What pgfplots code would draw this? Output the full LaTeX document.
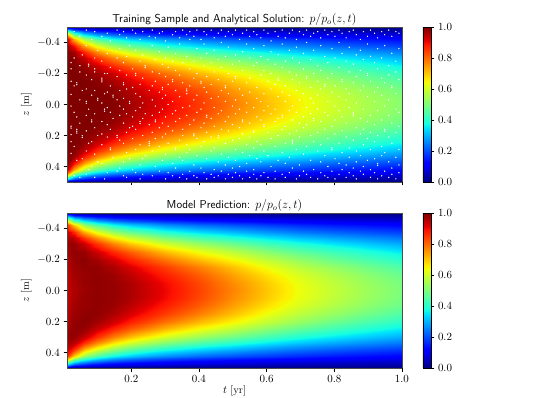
\documentclass[border=0pt]{standalone}
\usepackage{pgfplots}
\usepackage{pgfplotstable}
\pgfplotsset{compat=1.18}

% analytical solution, upper half (z<=0), mirrored for z>0
\pgfplotstableread[row sep=\\]{
t z v\\
.01 -.5 0\\ .01 -.48 .36\\ .01 -.45 .757\\ .01 -.42 .939\\ .01 -.38 .995\\ .01 -.34 1\\ .01 -.3 1\\ .01 -.25 1\\ .01 -.2 1\\ .01 -.15 1\\ .01 -.1 1\\ .01 -.05 1\\ .01 0 1\\
.03 -.5 0\\ .03 -.48 .213\\ .03 -.45 .501\\ .03 -.42 .72\\ .03 -.38 .895\\ .03 -.34 .97\\ .03 -.3 .993\\ .03 -.25 1\\ .03 -.2 1\\ .03 -.15 1\\ .03 -.1 1\\ .03 -.05 1\\ .03 0 1\\
.06 -.5 0\\ .06 -.48 .151\\ .06 -.45 .367\\ .06 -.42 .556\\ .06 -.38 .749\\ .06 -.34 .877\\ .06 -.3 .944\\ .06 -.25 .983\\ .06 -.2 .996\\ .06 -.15 1\\ .06 -.1 1\\ .06 -.05 1\\ .06 0 1\\
.1 -.5 0\\ .1 -.48 .118\\ .1 -.45 .289\\ .1 -.42 .446\\ .1 -.38 .626\\ .1 -.34 .763\\ .1 -.3 .861\\ .1 -.25 .936\\ .1 -.2 .974\\ .1 -.15 .99\\ .1 -.1 .997\\ .1 -.05 .999\\ .1 0 .999\\
.15 -.5 0\\ .15 -.48 .096\\ .15 -.45 .238\\ .15 -.42 .371\\ .15 -.38 .532\\ .15 -.34 .666\\ .15 -.3 .773\\ .15 -.25 .868\\ .15 -.2 .93\\ .15 -.15 .965\\ .15 -.1 .984\\ .15 -.05 .992\\ .15 0 .995\\
.2 -.5 0\\ .2 -.48 .083\\ .2 -.45 .207\\ .2 -.42 .324\\ .2 -.38 .47\\ .2 -.34 .598\\ .2 -.3 .705\\ .2 -.25 .81\\ .2 -.2 .875\\ .2 -.15 .92\\ .2 -.1 .95\\ .2 -.05 .965\\ .2 0 .97\\
.3 -.5 0\\ .3 -.48 .068\\ .3 -.45 .169\\ .3 -.42 .267\\ .3 -.38 .392\\ .3 -.34 .506\\ .3 -.3 .607\\ .3 -.25 .714\\ .3 -.2 .79\\ .3 -.15 .845\\ .3 -.1 .88\\ .3 -.05 .905\\ .3 0 .91\\
.4 -.5 0\\ .4 -.48 .059\\ .4 -.45 .146\\ .4 -.42 .232\\ .4 -.38 .342\\ .4 -.34 .445\\ .4 -.3 .538\\ .4 -.25 .64\\ .4 -.2 .715\\ .4 -.15 .775\\ .4 -.1 .82\\ .4 -.05 .845\\ .4 0 .85\\
.5 -.5 0\\ .5 -.48 .052\\ .5 -.45 .13\\ .5 -.42 .207\\ .5 -.38 .306\\ .5 -.34 .398\\ .5 -.3 .484\\ .5 -.25 .579\\ .5 -.2 .65\\ .5 -.15 .705\\ .5 -.1 .745\\ .5 -.05 .77\\ .5 0 .78\\
.6 -.5 0\\ .6 -.48 .047\\ .6 -.45 .118\\ .6 -.42 .187\\ .6 -.38 .276\\ .6 -.34 .361\\ .6 -.3 .439\\ .6 -.25 .527\\ .6 -.2 .59\\ .6 -.15 .64\\ .6 -.1 .68\\ .6 -.05 .705\\ .6 0 .71\\
.7 -.5 0\\ .7 -.48 .043\\ .7 -.45 .107\\ .7 -.42 .17\\ .7 -.38 .251\\ .7 -.34 .328\\ .7 -.3 .4\\ .7 -.25 .48\\ .7 -.2 .54\\ .7 -.15 .585\\ .7 -.1 .62\\ .7 -.05 .645\\ .7 0 .65\\
.8 -.5 0\\ .8 -.48 .039\\ .8 -.45 .097\\ .8 -.42 .154\\ .8 -.38 .228\\ .8 -.34 .299\\ .8 -.3 .364\\ .8 -.25 .438\\ .8 -.2 .49\\ .8 -.15 .54\\ .8 -.1 .575\\ .8 -.05 .595\\ .8 0 .6\\
.9 -.5 0\\ .9 -.48 .036\\ .9 -.45 .089\\ .9 -.42 .141\\ .9 -.38 .208\\ .9 -.34 .273\\ .9 -.3 .333\\ .9 -.25 .401\\ .9 -.2 .45\\ .9 -.15 .495\\ .9 -.1 .53\\ .9 -.05 .55\\ .9 0 .555\\
1 -.5 0\\ 1 -.48 .033\\ 1 -.45 .081\\ 1 -.42 .129\\ 1 -.38 .191\\ 1 -.34 .249\\ 1 -.3 .304\\ 1 -.25 .366\\ 1 -.2 .415\\ 1 -.15 .455\\ 1 -.1 .49\\ 1 -.05 .51\\ 1 0 .515\\
}\analytic

% model prediction, upper half
\pgfplotstableread[row sep=\\]{
t z v\\
.01 -.5 .02\\ .01 -.48 .3\\ .01 -.45 .65\\ .01 -.42 .86\\ .01 -.38 .94\\ .01 -.34 .97\\ .01 -.3 .98\\ .01 -.25 .97\\ .01 -.2 .96\\ .01 -.15 .95\\ .01 -.1 .945\\ .01 -.05 .94\\ .01 0 .94\\
.03 -.5 .01\\ .03 -.48 .19\\ .03 -.45 .46\\ .03 -.42 .7\\ .03 -.38 .87\\ .03 -.34 .95\\ .03 -.3 .98\\ .03 -.25 .985\\ .03 -.2 .98\\ .03 -.15 .975\\ .03 -.1 .97\\ .03 -.05 .965\\ .03 0 .96\\
.06 -.5 0\\ .06 -.48 .15\\ .06 -.45 .36\\ .06 -.42 .54\\ .06 -.38 .73\\ .06 -.34 .86\\ .06 -.3 .94\\ .06 -.25 .98\\ .06 -.2 .99\\ .06 -.15 .985\\ .06 -.1 .98\\ .06 -.05 .98\\ .06 0 .975\\
.1 -.5 0\\ .1 -.48 .118\\ .1 -.45 .289\\ .1 -.42 .446\\ .1 -.38 .626\\ .1 -.34 .763\\ .1 -.3 .86\\ .1 -.25 .935\\ .1 -.2 .97\\ .1 -.15 .985\\ .1 -.1 .985\\ .1 -.05 .985\\ .1 0 .985\\
.15 -.5 0\\ .15 -.48 .096\\ .15 -.45 .238\\ .15 -.42 .371\\ .15 -.38 .532\\ .15 -.34 .666\\ .15 -.3 .773\\ .15 -.25 .868\\ .15 -.2 .928\\ .15 -.15 .96\\ .15 -.1 .975\\ .15 -.05 .98\\ .15 0 .98\\
.2 -.5 0\\ .2 -.48 .083\\ .2 -.45 .207\\ .2 -.42 .324\\ .2 -.38 .47\\ .2 -.34 .598\\ .2 -.3 .705\\ .2 -.25 .81\\ .2 -.2 .875\\ .2 -.15 .92\\ .2 -.1 .945\\ .2 -.05 .96\\ .2 0 .962\\
.3 -.5 0\\ .3 -.48 .068\\ .3 -.45 .169\\ .3 -.42 .267\\ .3 -.38 .392\\ .3 -.34 .506\\ .3 -.3 .607\\ .3 -.25 .714\\ .3 -.2 .79\\ .3 -.15 .845\\ .3 -.1 .878\\ .3 -.05 .9\\ .3 0 .905\\
.4 -.5 0\\ .4 -.48 .059\\ .4 -.45 .146\\ .4 -.42 .232\\ .4 -.38 .342\\ .4 -.34 .445\\ .4 -.3 .538\\ .4 -.25 .64\\ .4 -.2 .715\\ .4 -.15 .775\\ .4 -.1 .812\\ .4 -.05 .835\\ .4 0 .84\\
.5 -.5 0\\ .5 -.48 .052\\ .5 -.45 .13\\ .5 -.42 .207\\ .5 -.38 .306\\ .5 -.34 .398\\ .5 -.3 .484\\ .5 -.25 .579\\ .5 -.2 .65\\ .5 -.15 .705\\ .5 -.1 .74\\ .5 -.05 .762\\ .5 0 .77\\
.6 -.5 0\\ .6 -.48 .046\\ .6 -.45 .116\\ .6 -.42 .184\\ .6 -.38 .271\\ .6 -.34 .354\\ .6 -.3 .431\\ .6 -.25 .517\\ .6 -.2 .585\\ .6 -.15 .635\\ .6 -.1 .672\\ .6 -.05 .695\\ .6 0 .7\\
.7 -.5 0\\ .7 -.48 .042\\ .7 -.45 .104\\ .7 -.42 .165\\ .7 -.38 .243\\ .7 -.34 .318\\ .7 -.3 .388\\ .7 -.25 .466\\ .7 -.2 .53\\ .7 -.15 .575\\ .7 -.1 .61\\ .7 -.05 .63\\ .7 0 .635\\
.8 -.5 0\\ .8 -.48 .038\\ .8 -.45 .094\\ .8 -.42 .149\\ .8 -.38 .221\\ .8 -.34 .29\\ .8 -.3 .353\\ .8 -.25 .425\\ .8 -.2 .48\\ .8 -.15 .53\\ .8 -.1 .562\\ .8 -.05 .58\\ .8 0 .585\\
.9 -.5 0\\ .9 -.48 .035\\ .9 -.45 .086\\ .9 -.42 .137\\ .9 -.38 .202\\ .9 -.34 .265\\ .9 -.3 .323\\ .9 -.25 .389\\ .9 -.2 .44\\ .9 -.15 .485\\ .9 -.1 .518\\ .9 -.05 .535\\ .9 0 .54\\
1 -.5 0\\ 1 -.48 .032\\ 1 -.45 .079\\ 1 -.42 .125\\ 1 -.38 .185\\ 1 -.34 .242\\ 1 -.3 .295\\ 1 -.25 .355\\ 1 -.2 .404\\ 1 -.15 .445\\ 1 -.1 .477\\ 1 -.05 .495\\ 1 0 .5\\
}\model

% training sample locations
\pgfplotstableread[row sep=\\]{
t z h\\
.022 -.27 1\\ .022 -.23 1\\ .022 -.15 1\\ .022 -.065 1\\ .022 .01 1\\ .022 .14 1\\ .022 .152 1\\ .022 .195 1\\ .022 .24 1\\ .022 .315 1\\
.031 -.47 1\\ .031 -.3 1\\ .031 -.12 1\\ .031 .05 1\\ .031 .27 1\\ .031 .46 1\\
.039 -.14 1\\ .039 -.128 1\\ .039 .08 1\\ .039 .16 1\\ .039 .172 1\\ .039 .184 1\\ .039 .36 1\\
.048 -.44 1\\ .048 -.25 1\\ .048 -.21 1\\ .048 -.03 1\\ .048 .12 1\\ .048 .47 1\\
.055 -.32 1\\ .055 -.09 1\\ .055 .2 1\\ .055 .212 1\\ .055 .35 1\\
.067 -.48 1\\ .067 -.38 1\\ .067 -.19 1\\ .067 -.1 1\\ .067 -.02 1\\ .067 -.008 1\\ .067 .07 1\\ .067 .17 1\\ .067 .3 1\\ .067 .45 1\\
.074 -.26 1\\ .074 -.248 1\\ .074 .03 1\\ .074 .25 1\\ .074 .42 1\\
.083 -.42 1\\ .083 -.16 1\\ .083 -.06 1\\ .083 .1 1\\ .083 .112 1\\ .083 .24 1\\ .083 .4 1\\
.092 -.47 1\\ .092 -.3 1\\ .092 -.23 1\\ .092 -.21 1\\ .092 -.09 1\\ .092 .06 1\\ .092 .15 1\\ .092 .32 1\\ .092 .47 1\\
.101 -.35 1\\ .101 -.04 1\\ .101 -.028 1\\ .101 .2 1\\ .101 .37 1\\
.113 -.44 1\\ .113 -.28 1\\ .113 -.17 1\\ .113 -.158 1\\ .113 -.146 1\\ .113 -.01 1\\ .113 .11 1\\ .113 .19 1\\ .113 .26 1\\ .113 .38 1\\
.121 -.2 1\\ .121 -.07 1\\ .121 .03 1\\ .121 .043 1\\ .121 .48 1\\
.129 -.46 1\\ .129 -.33 1\\ .129 -.2 1\\ .129 -.08 1\\ .129 .02 1\\ .129 .13 1\\ .129 .21 1\\ .129 .44 1\\
.138 -.41 1\\ .138 -.24 1\\ .138 -.12 1\\ .138 .05 1\\ .138 .16 1\\ .138 .28 1\\ .138 .292 1\\
.146 -.06 1\\ .146 -.048 1\\ .146 .09 1\\ .146 .34 1\\
.158 -.48 1\\ .158 -.3 1\\ .158 -.18 1\\ .158 -.03 1\\ .158 .2 1\\ .158 .212 1\\ .158 .43 1\\
.166 -.45 1\\ .166 -.36 1\\ .166 -.22 1\\ .166 -.09 1\\ .166 .01 1\\ .166 .07 1\\ .166 .23 1\\ .166 .41 1\\
.177 -.47 1\\ .177 -.27 1\\ .177 -.14 1\\ .177 -.128 1\\ .177 -.04 1\\ .177 .03 1\\ .177 .12 1\\ .177 .25 1\\ .177 .37 1\\ .177 .46 1\\
.186 -.43 1\\ .186 -.31 1\\ .186 -.19 1\\ .186 -.1 1\\ .186 .06 1\\ .186 .18 1\\ .186 .31 1\\ .186 .47 1\\
.195 -.38 1\\ .195 -.02 1\\ .195 -.008 1\\ .195 .15 1\\ .195 .35 1\\
.204 -.48 1\\ .204 -.23 1\\ .204 -.11 1\\ .204 .08 1\\ .204 .14 1\\ .204 .22 1\\ .204 .42 1\\
.213 -.46 1\\ .213 -.35 1\\ .213 -.2 1\\ .213 -.188 1\\ .213 -.07 1\\ .213 .04 1\\ .213 .16 1\\ .213 .29 1\\ .213 .44 1\\
.226 -.42 1\\ .226 -.28 1\\ .226 -.13 1\\ .226 -.05 1\\ .226 .02 1\\ .226 .11 1\\ .226 .123 1\\ .226 .26 1\\ .226 .39 1\\ .226 .48 1\\
.234 -.47 1\\ .234 -.32 1\\ .234 -.17 1\\ .234 -.01 1\\ .234 .09 1\\ .234 .2 1\\ .234 .35 1\\ .234 .45 1\\
.241 -.25 1\\ .241 -.238 1\\ .241 .06 1\\ .241 .33 1\\
.253 -.44 1\\ .253 -.09 1\\ .253 .13 1\\ .253 .24 1\\ .253 .252 1\\ .253 .264 1\\
.262 -.48 1\\ .262 -.38 1\\ .262 -.21 1\\ .262 -.12 1\\ .262 -.03 1\\ .262 .07 1\\ .262 .18 1\\ .262 .3 1\\ .262 .46 1\\
.271 -.43 1\\ .271 -.29 1\\ .271 -.15 1\\ .271 .01 1\\ .271 .1 1\\ .271 .112 1\\ .271 .22 1\\ .271 .4 1\\
.283 -.46 1\\ .283 -.34 1\\ .283 -.2 1\\ .283 -.08 1\\ .283 .05 1\\ .283 .15 1\\ .283 .27 1\\ .283 .43 1\\
.292 -.47 1\\ .292 -.26 1\\ .292 -.11 1\\ .292 -.098 1\\ .292 -.04 1\\ .292 .03 1\\ .292 .12 1\\ .292 .21 1\\ .292 .36 1\\
.301 -.41 1\\ .301 -.3 1\\ .301 -.18 1\\ .301 -.06 1\\ .301 .08 1\\ .301 .19 1\\ .301 .32 1\\ .301 .48 1\\
.309 -.37 1\\ .309 -.24 1\\ .309 -.13 1\\ .309 0 1\\ .309 .14 1\\ .309 .25 1\\ .309 .44 1\\
.322 -.45 1\\ .322 -.28 1\\ .322 -.16 1\\ .322 -.148 1\\ .322 -.02 1\\ .322 .06 1\\ .322 .17 1\\ .322 .38 1\\ .322 .46 1\\
.331 -.47 1\\ .331 -.33 1\\ .331 -.22 1\\ .331 -.09 1\\ .331 .04 1\\ .331 .11 1\\ .331 .28 1\\ .331 .292 1\\ .331 .41 1\\
.343 -.43 1\\ .343 -.39 1\\ .343 -.19 1\\ .343 -.05 1\\ .343 .09 1\\ .343 .23 1\\ .343 .34 1\\ .343 .47 1\\
.352 -.48 1\\ .352 -.27 1\\ .352 -.14 1\\ .352 .02 1\\ .352 .16 1\\ .352 .2 1\\ .352 .36 1\\ .352 .45 1\\
.364 -.45 1\\ .364 -.31 1\\ .364 -.1 1\\ .364 -.088 1\\ .364 -.07 1\\ .364 .07 1\\ .364 .26 1\\ .364 .31 1\\ .364 .48 1\\
.373 -.47 1\\ .373 -.42 1\\ .373 -.23 1\\ .373 -.12 1\\ .373 .01 1\\ .373 .13 1\\ .373 .29 1\\ .373 .43 1\\
.385 -.44 1\\ .385 -.28 1\\ .385 -.17 1\\ .385 -.03 1\\ .385 .1 1\\ .385 .19 1\\ .385 .202 1\\ .385 .39 1\\ .385 .46 1\\
.394 -.48 1\\ .394 -.36 1\\ .394 -.2 1\\ .394 -.06 1\\ .394 .05 1\\ .394 .22 1\\ .394 .33 1\\ .394 .47 1\\
.406 -.42 1\\ .406 -.3 1\\ .406 -.15 1\\ .406 -.138 1\\ .406 .03 1\\ .406 .15 1\\ .406 .27 1\\ .406 .41 1\\
.415 -.47 1\\ .415 -.39 1\\ .415 -.25 1\\ .415 -.11 1\\ .415 -.01 1\\ .415 .12 1\\ .415 .24 1\\ .415 .44 1\\
.423 -.45 1\\ .423 -.33 1\\ .423 -.18 1\\ .423 -.08 1\\ .423 .07 1\\ .423 .082 1\\ .423 .18 1\\ .423 .35 1\\ .423 .48 1\\
.436 -.48 1\\ .436 -.27 1\\ .436 -.13 1\\ .436 -.04 1\\ .436 .09 1\\ .436 .21 1\\ .436 .3 1\\ .436 .45 1\\
.445 -.43 1\\ .445 -.35 1\\ .445 -.21 1\\ .445 .02 1\\ .445 .14 1\\ .445 .28 1\\ .445 .42 1\\ .445 .47 1\\
.457 -.46 1\\ .457 -.29 1\\ .457 -.16 1\\ .457 -.05 1\\ .457 .06 1\\ .457 .2 1\\ .457 .212 1\\ .457 .37 1\\ .457 .46 1\\
.466 -.48 1\\ .466 -.4 1\\ .466 -.24 1\\ .466 -.09 1\\ .466 .04 1\\ .466 .16 1\\ .466 .32 1\\ .466 .43 1\\
.478 -.44 1\\ .478 -.31 1\\ .478 -.12 1\\ .478 -.108 1\\ .478 -.02 1\\ .478 .11 1\\ .478 .25 1\\ .478 .39 1\\ .478 .48 1\\
.487 -.47 1\\ .487 -.37 1\\ .487 -.2 1\\ .487 -.07 1\\ .487 .08 1\\ .487 .17 1\\ .487 .34 1\\ .487 .45 1\\
.499 -.45 1\\ .499 -.26 1\\ .499 -.15 1\\ .499 .01 1\\ .499 .13 1\\ .499 .23 1\\ .499 .41 1\\ .499 .47 1\\
.508 -.48 1\\ .508 -.32 1\\ .508 -.18 1\\ .508 -.168 1\\ .508 -.03 1\\ .508 .06 1\\ .508 .29 1\\ .508 .36 1\\ .508 .44 1\\
.52 -.42 1\\ .52 -.28 1\\ .52 -.1 1\\ .52 .03 1\\ .52 .15 1\\ .52 .22 1\\ .52 .4 1\\ .52 .46 1\\
.529 -.46 1\\ .529 -.34 1\\ .529 -.22 1\\ .529 -.06 1\\ .529 .1 1\\ .529 .112 1\\ .529 .19 1\\ .529 .31 1\\ .529 .48 1\\
.541 -.48 1\\ .541 -.39 1\\ .541 -.14 1\\ .541 -.01 1\\ .541 .05 1\\ .541 .26 1\\ .541 .38 1\\ .541 .43 1\\
.55 -.44 1\\ .55 -.3 1\\ .55 -.17 1\\ .55 -.08 1\\ .55 .12 1\\ .55 .21 1\\ .55 .33 1\\ .55 .47 1\\
.562 -.47 1\\ .562 -.36 1\\ .562 -.25 1\\ .562 .02 1\\ .562 .17 1\\ .562 .182 1\\ .562 .28 1\\ .562 .42 1\\ .562 .45 1\\
.571 -.45 1\\ .571 -.27 1\\ .571 -.11 1\\ .571 -.04 1\\ .571 .08 1\\ .571 .24 1\\ .571 .35 1\\ .571 .48 1\\
.583 -.43 1\\ .583 -.31 1\\ .583 -.19 1\\ .583 -.02 1\\ .583 .1 1\\ .583 .26 1\\ .583 .37 1\\ .583 .46 1\\
.592 -.48 1\\ .592 -.38 1\\ .592 -.22 1\\ .592 -.07 1\\ .592 .04 1\\ .592 .13 1\\ .592 .142 1\\ .592 .3 1\\ .592 .44 1\\
.604 -.46 1\\ .604 -.29 1\\ .604 -.15 1\\ .604 .01 1\\ .604 .18 1\\ .604 .33 1\\ .604 .47 1\\
.613 -.41 1\\ .613 -.34 1\\ .613 -.2 1\\ .613 -.1 1\\ .613 .06 1\\ .613 .22 1\\ .613 .4 1\\
.625 -.47 1\\ .625 -.26 1\\ .625 -.13 1\\ .625 .03 1\\ .625 .11 1\\ .625 .27 1\\ .625 .43 1\\ .625 .48 1\\
.634 -.44 1\\ .634 -.32 1\\ .634 -.17 1\\ .634 -.158 1\\ .634 -.05 1\\ .634 .09 1\\ .634 .2 1\\ .634 .36 1\\
.646 -.48 1\\ .646 -.39 1\\ .646 -.24 1\\ .646 -.08 1\\ .646 .07 1\\ .646 .082 1\\ .646 .16 1\\ .646 .31 1\\ .646 .45 1\\
.655 -.43 1\\ .655 -.28 1\\ .655 -.12 1\\ .655 -.02 1\\ .655 .14 1\\ .655 .25 1\\ .655 .38 1\\ .655 .47 1\\
.667 -.46 1\\ .667 -.35 1\\ .667 -.21 1\\ .667 -.06 1\\ .667 .04 1\\ .667 .19 1\\ .667 .34 1\\ .667 .44 1\\
.676 -.48 1\\ .676 -.3 1\\ .676 -.16 1\\ .676 .01 1\\ .676 .1 1\\ .676 .23 1\\ .676 .242 1\\ .676 .254 1\\ .676 .41 1\\
.688 -.42 1\\ .688 -.37 1\\ .688 -.19 1\\ .688 -.09 1\\ .688 .05 1\\ .688 .17 1\\ .688 .29 1\\ .688 .48 1\\
.697 -.47 1\\ .697 -.27 1\\ .697 -.14 1\\ .697 -.03 1\\ .697 .12 1\\ .697 .21 1\\ .697 .39 1\\ .697 .46 1\\
.709 -.45 1\\ .709 -.33 1\\ .709 -.23 1\\ .709 -.07 1\\ .709 .08 1\\ .709 .15 1\\ .709 .32 1\\ .709 .43 1\\
.718 -.48 1\\ .718 -.4 1\\ .718 -.18 1\\ .718 -.168 1\\ .718 .02 1\\ .718 .13 1\\ .718 .27 1\\ .718 .45 1\\
.73 -.44 1\\ .73 -.29 1\\ .73 -.11 1\\ .73 -.04 1\\ .73 .06 1\\ .73 .2 1\\ .73 .36 1\\ .73 .47 1\\
.739 -.46 1\\ .739 -.35 1\\ .739 -.2 1\\ .739 -.01 1\\ .739 .09 1\\ .739 .102 1\\ .739 .24 1\\ .739 .42 1\\
.751 -.47 1\\ .751 -.25 1\\ .751 -.15 1\\ .751 -.06 1\\ .751 .03 1\\ .751 .18 1\\ .751 .3 1\\ .751 .48 1\\
.76 -.43 1\\ .76 -.38 1\\ .76 -.22 1\\ .76 -.1 1\\ .76 .11 1\\ .76 .26 1\\ .76 .37 1\\ .76 .44 1\\
.772 -.48 1\\ .772 -.31 1\\ .772 -.13 1\\ .772 -.118 1\\ .772 .05 1\\ .772 .16 1\\ .772 .33 1\\ .772 .46 1\\
.781 -.45 1\\ .781 -.27 1\\ .781 -.17 1\\ .781 -.02 1\\ .781 .07 1\\ .781 .22 1\\ .781 .4 1\\ .781 .47 1\\
.793 -.47 1\\ .793 -.36 1\\ .793 -.2 1\\ .793 -.08 1\\ .793 .14 1\\ .793 .28 1\\ .793 .292 1\\ .793 .43 1\\
.802 -.44 1\\ .802 -.3 1\\ .802 -.12 1\\ .802 .01 1\\ .802 .1 1\\ .802 .19 1\\ .802 .35 1\\ .802 .48 1\\
.814 -.48 1\\ .814 -.4 1\\ .814 -.24 1\\ .814 -.05 1\\ .814 .04 1\\ .814 .25 1\\ .814 .38 1\\ .814 .45 1\\
.823 -.46 1\\ .823 -.33 1\\ .823 -.16 1\\ .823 -.148 1\\ .823 .08 1\\ .823 .17 1\\ .823 .31 1\\ .823 .42 1\\
.835 -.43 1\\ .835 -.28 1\\ .835 -.1 1\\ .835 -.03 1\\ .835 .12 1\\ .835 .21 1\\ .835 .39 1\\ .835 .47 1\\
.844 -.47 1\\ .844 -.37 1\\ .844 -.21 1\\ .844 -.07 1\\ .844 .02 1\\ .844 .28 1\\ .844 .34 1\\ .844 .44 1\\
.856 -.48 1\\ .856 -.26 1\\ .856 -.14 1\\ .856 .05 1\\ .856 .062 1\\ .856 .074 1\\ .856 .23 1\\ .856 .41 1\\ .856 .46 1\\
.865 -.45 1\\ .865 -.32 1\\ .865 -.18 1\\ .865 -.01 1\\ .865 .15 1\\ .865 .3 1\\ .865 .37 1\\ .865 .48 1\\
.877 -.42 1\\ .877 -.35 1\\ .877 -.22 1\\ .877 -.09 1\\ .877 .09 1\\ .877 .19 1\\ .877 .33 1\\ .877 .43 1\\
.886 -.47 1\\ .886 -.29 1\\ .886 -.12 1\\ .886 .03 1\\ .886 .16 1\\ .886 .26 1\\ .886 .4 1\\ .886 .45 1\\
.898 -.44 1\\ .898 -.39 1\\ .898 -.2 1\\ .898 -.188 1\\ .898 -.05 1\\ .898 .11 1\\ .898 .22 1\\ .898 .36 1\\
.907 -.48 1\\ .907 -.31 1\\ .907 -.15 1\\ .907 .07 1\\ .907 .18 1\\ .907 .29 1\\ .907 .42 1\\ .907 .47 1\\
.919 -.46 1\\ .919 -.27 1\\ .919 -.08 1\\ .919 -.02 1\\ .919 .13 1\\ .919 .24 1\\ .919 .35 1\\ .919 .44 1\\
.928 -.43 1\\ .928 -.36 1\\ .928 -.23 1\\ .928 -.11 1\\ .928 .04 1\\ .928 .2 1\\ .928 .38 1\\ .928 .392 1\\ .928 .48 1\\
.94 -.47 1\\ .94 -.3 1\\ .94 -.17 1\\ .94 -.06 1\\ .94 .1 1\\ .94 .27 1\\ .94 .33 1\\ .94 .46 1\\
.949 -.45 1\\ .949 -.38 1\\ .949 -.14 1\\ .949 .01 1\\ .949 .16 1\\ .949 .172 1\\ .949 .31 1\\ .949 .43 1\\
.961 -.48 1\\ .961 -.25 1\\ .961 -.19 1\\ .961 -.03 1\\ .961 .07 1\\ .961 .21 1\\ .961 .37 1\\ .961 .47 1\\
.97 -.44 1\\ .97 -.33 1\\ .97 -.12 1\\ .97 -.108 1\\ .97 .12 1\\ .97 .25 1\\ .97 .41 1\\ .97 .45 1\\
.982 -.47 1\\ .982 -.28 1\\ .982 -.21 1\\ .982 -.07 1\\ .982 .03 1\\ .982 .18 1\\ .982 .34 1\\ .982 .48 1\\
.991 -.46 1\\ .991 -.36 1\\ .991 -.16 1\\ .991 .05 1\\ .991 .14 1\\ .991 .29 1\\ .991 .39 1\\ .991 .44 1\\
}\samples

\pgfplotsset{
 colormap={mjet}{rgb(0pt)=(0,0,.5); rgb(11pt)=(0,0,1); rgb(12.5pt)=(0,0,1); rgb(34pt)=(0,.86,1); rgb(35pt)=(0,.9,.97);
  rgb(37.5pt)=(.08,1,.89); rgb(64pt)=(.94,1,.03); rgb(65pt)=(.97,.96,0); rgb(66pt)=(1,.93,0); rgb(89pt)=(1,.07,0);
  rgb(91pt)=(.91,0,0); rgb(100pt)=(.5,0,0)},
 panel/.style={
  scale only axis, width=335pt, height=155pt,
  xmin=.01, xmax=1, ymin=-.5, ymax=.5, y dir=reverse,
  point meta min=0, point meta max=1,
  view={0}{90}, axis on top,
  xtick={.2,.4,.6,.8,1}, ytick={-.4,-.2,0,.2,.4},
  tick align=outside, tick pos=left, major tick length=3.5pt,
  every tick/.style={black,line width=.4pt},
  axis line style={line width=.5pt,black!70},
  tick label style={font=\fontsize{10.5}{12}\selectfont},
  label style={font=\fontsize{10.5}{12}\selectfont},
  title style={font=\fontsize{11.5}{13}\selectfont\sffamily,yshift=-8pt},
  xticklabel style={/pgf/number format/fixed,/pgf/number format/fixed zerofill,/pgf/number format/precision=1},
  yticklabel style={/pgf/number format/fixed,/pgf/number format/fixed zerofill,/pgf/number format/precision=1},
  ylabel={$z$ [m]}, ylabel style={yshift=-1pt},
  colorbar,
  colorbar style={at={(1.0627,0)},anchor=south west,width=8pt,height=155pt,
   ytick={0,.2,.4,.6,.8,1},tick pos=right,tick align=outside,major tick length=3.5pt,
   ylabel={},y dir=normal,
   yticklabel pos=right,
   yticklabel style={/pgf/number format/fixed,/pgf/number format/fixed zerofill,/pgf/number format/precision=1}},
 },
 field/.style={surf,shader=interp,mesh/ordering=y varies,mesh/rows=13,mesh/cols=14},
}

\begin{document}
\begin{tikzpicture}[x=1pt,y=1pt]
\path[use as bounding box] (0,0) rectangle (540,398);

\begin{axis}[panel,at={(67pt,216pt)},anchor=south west,xticklabels={},
 title={Training Sample and Analytical Solution: $p/p_o(z,t)$}]
\addplot3[field] table[x=t,y=z,z=v,meta=v] {\analytic};
\addplot3[field] table[x=t,y expr=-\thisrow{z},z=v,meta=v] {\analytic};
\addplot3[only marks,mark=*,mark size=.42pt,white,mark options={draw=none,fill=white}] table[x=t,y=z,z=h] {\samples};
\end{axis}

\begin{axis}[panel,at={(67pt,30pt)},anchor=south west,
 xlabel={$t$ [yr]},xlabel style={yshift=3pt},
 title={Model Prediction: $p/p_o(z,t)$}]
\addplot3[field] table[x=t,y=z,z=v,meta=v] {\model};
\addplot3[field] table[x=t,y expr=-\thisrow{z},z=v,meta=v] {\model};
\end{axis}
\end{tikzpicture}
\end{document}
